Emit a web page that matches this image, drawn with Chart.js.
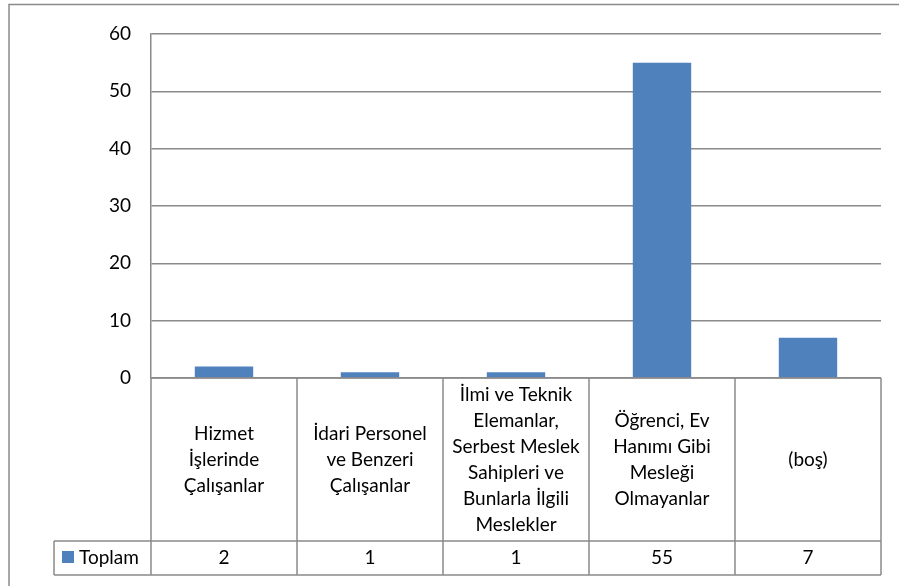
<!DOCTYPE html>
<html>
<head>
<meta charset="utf-8">
<script src="https://cdn.jsdelivr.net/npm/chart.js@4/dist/chart.umd.min.js"></script>
<style>
  html, body { margin: 0; padding: 0; background: #fff; }
  #wrap { width: 899px; height: 586px; position: relative; }
</style>
</head>
<body>
<div id="wrap"><canvas id="c" width="899" height="586"></canvas></div>
<script>
const categories = [
  ["Hizmet", "İşlerinde", "Çalışanlar"],
  ["İdari Personel", "ve Benzeri", "Çalışanlar"],
  ["İlmi ve Teknik", "Elemanlar,", "Serbest Meslek", "Sahipleri ve", "Bunlarla İlgili", "Meslekler"],
  ["Öğrenci, Ev", "Hanımı Gibi", "Mesleği", "Olmayanlar"],
  ["(boş)"]
];
const seriesName = "Toplam";
const values = [2, 1, 1, 55, 7];
const yTicks = [0, 10, 20, 30, 40, 50, 60];

const FONT = "Lato";
const FSIZE = 19;
const GRID = "#8a8a8a";
const BAR = "#4F81BD";

const tablePlugin = {
  id: "dataTable",
  beforeDraw(chart) {
    const ctx = chart.ctx;
    ctx.save();
    ctx.strokeStyle = GRID;
    ctx.lineWidth = 1.5;
    ctx.beginPath();
    ctx.moveTo(9, 586); ctx.lineTo(9, 4.5); ctx.lineTo(899, 4.5);
    ctx.stroke();
    ctx.restore();
  },
  afterDraw(chart) {
    const ctx = chart.ctx;
    const area = chart.chartArea;
    const x = chart.scales.x;
    const n = categories.length;
    const left = area.left, right = area.right;
    const top = area.bottom;
    const catW = (right - left) / n;
    const rowY = 541, botY = 575, legLeft = 54;
    ctx.save();
    ctx.strokeStyle = GRID;
    ctx.lineWidth = 1.5;
    ctx.beginPath();
    ctx.moveTo(left, top); ctx.lineTo(right, top);
    ctx.moveTo(legLeft, rowY); ctx.lineTo(right, rowY);
    ctx.moveTo(legLeft, botY); ctx.lineTo(right, botY);
    for (let i = 0; i <= n; i++) {
      const xx = left + i * catW;
      ctx.moveTo(xx, top); ctx.lineTo(xx, botY);
    }
    ctx.moveTo(legLeft, rowY); ctx.lineTo(legLeft, botY);
    ctx.stroke();

    ctx.fillStyle = "#000";
    ctx.font = FSIZE + "px " + FONT;
    ctx.textAlign = "center";
    ctx.textBaseline = "middle";
    const lh = 26;
    const midY = (top + rowY) / 2;
    categories.forEach((lines, i) => {
      const cx = x.getPixelForValue(i);
      const y0 = midY - (lines.length - 1) * lh / 2;
      lines.forEach((t, j) => ctx.fillText(t, cx, y0 + j * lh));
      ctx.fillText(String(values[i]), cx, (rowY + botY) / 2);
    });
    ctx.fillStyle = BAR;
    ctx.fillRect(62, 551, 12, 12);
    ctx.fillStyle = "#000";
    ctx.textAlign = "left";
    ctx.fillText(seriesName, 79, (rowY + botY) / 2);
    ctx.restore();
  }
};

new Chart(document.getElementById("c"), {
  type: "bar",
  data: {
    labels: categories.map(l => l.join(" ")),
    datasets: [{
      label: seriesName,
      data: values,
      backgroundColor: BAR,
      borderWidth: 0,
      categoryPercentage: 1,
      barPercentage: 0.4
    }]
  },
  options: {
    responsive: false,
    animation: false,
    devicePixelRatio: 1,
    layout: { padding: { left: 0, top: 34, right: 18, bottom: 208 } },
    plugins: { legend: { display: false }, tooltip: { enabled: false } },
    scales: {
      x: { display: false, offset: true },
      y: {
        min: 0, max: 60,
        afterFit(scale) { scale.width = 151; },
        afterBuildTicks(scale) { scale.ticks = yTicks.map(v => ({ value: v })); },
        border: { display: true, color: GRID, width: 1.5 },
        grid: { color: GRID, lineWidth: 1.5, drawTicks: false },
        ticks: { color: "#000", padding: 20, font: { family: FONT, size: FSIZE } }
      }
    }
  },
  plugins: [tablePlugin]
});
</script>
</body>
</html>
